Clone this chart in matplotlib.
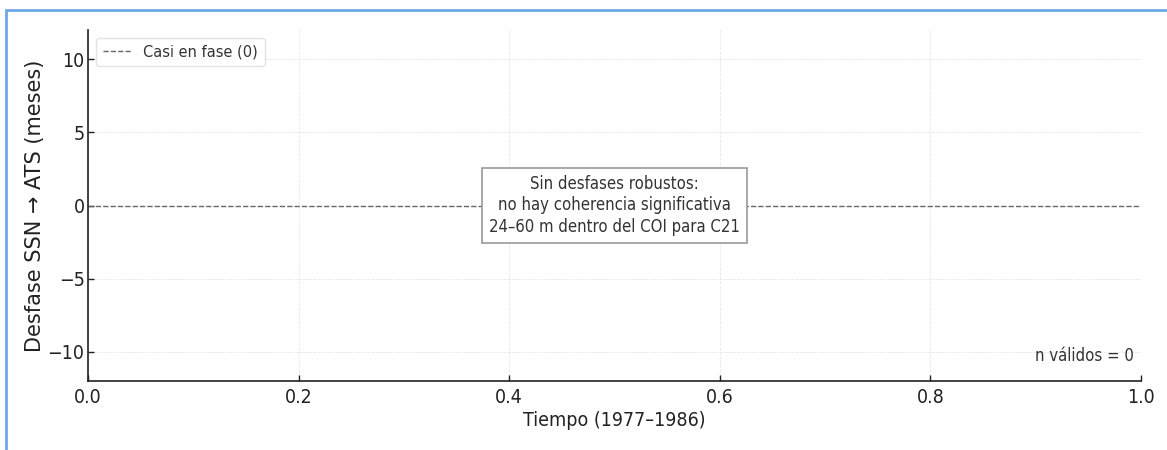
import matplotlib
matplotlib.use("Agg")
import matplotlib.pyplot as plt
from matplotlib.patches import Rectangle

# Chart content
x_limits = [0.0, 1.0]
y_limits = [-12, 12]
x_ticks = [0.0, 0.2, 0.4, 0.6, 0.8, 1.0]
y_ticks = [-10, -5, 0, 5, 10]
reference_phase = 0
n_valid = 0
legend_label = "Casi en fase (0)"
note_text = ("Sin desfases robustos:\n"
             "no hay coherencia significativa\n"
             "24\u201360 m dentro del COI para C21")
x_label = "Tiempo (1977\u20131986)"
y_label = "Desfase SSN \u2192 ATS (meses)"

plt.rcParams['font.family'] = ['DejaVu Sans']

fig = plt.figure(figsize=(11.67, 4.5), dpi=100)
ax = fig.add_axes([88 / 1167, 1 - 381 / 450, (1141 - 88) / 1167, (381 - 30) / 450])

ax.axhline(reference_phase, color="#666666", linestyle="--", linewidth=1.0,
           label=legend_label)

ax.set_xlim(*x_limits)
ax.set_ylim(*y_limits)
ax.set_xticks(x_ticks)
ax.set_yticks(y_ticks)
ax.tick_params(direction="in", length=4, width=1.0, colors="#222222")
ax.tick_params(axis="y", pad=2.5)
ax.tick_params(axis="x", pad=5)
for lbl in ax.get_xticklabels() + ax.get_yticklabels():
    lbl.set_fontsize(14)
    lbl.set_fontstretch("condensed")
ax.grid(True, linestyle="--", linewidth=0.6, color="#e8e8e8")
ax.spines["top"].set_visible(False)
ax.spines["right"].set_visible(False)
for s in ("left", "bottom"):
    ax.spines[s].set_linewidth(1.2)
    ax.spines[s].set_color("#222222")

ax.set_xlabel(x_label, fontsize=14, fontstretch="condensed", color="#222222", labelpad=3)
ax.set_ylabel(y_label, fontsize=15, color="#222222", labelpad=2)

ax.text(0.5, 0.5, note_text, transform=ax.transAxes, ha="center", va="center",
        fontsize=12, fontstretch="condensed", color="#333333", linespacing=1.25,
        bbox=dict(boxstyle="square,pad=0.4", facecolor="white", edgecolor="#999999",
                  linewidth=1.2))

ax.text(0.9935, 0.045, f"n válidos = {n_valid}", transform=ax.transAxes,
        ha="right", va="bottom", fontsize=12, fontstretch="condensed", color="#333333")

leg = ax.legend(loc="upper left", fontsize=11.7, frameon=True, handlelength=1.8,
                handletextpad=0.7, borderaxespad=0.5)
leg.get_frame().set_edgecolor("#dddddd")
for t in leg.get_texts():
    t.set_fontstretch("condensed")
    t.set_color("#333333")

# Light blue frame around the figure
fig.patches.append(Rectangle((6 / 1167, -0.05), 1.2, 1 - 10 / 450 + 0.05,
                             transform=fig.transFigure, fill=False,
                             edgecolor="#6fa8e6", linewidth=2.0))

fig.savefig("out.png", dpi=100)
